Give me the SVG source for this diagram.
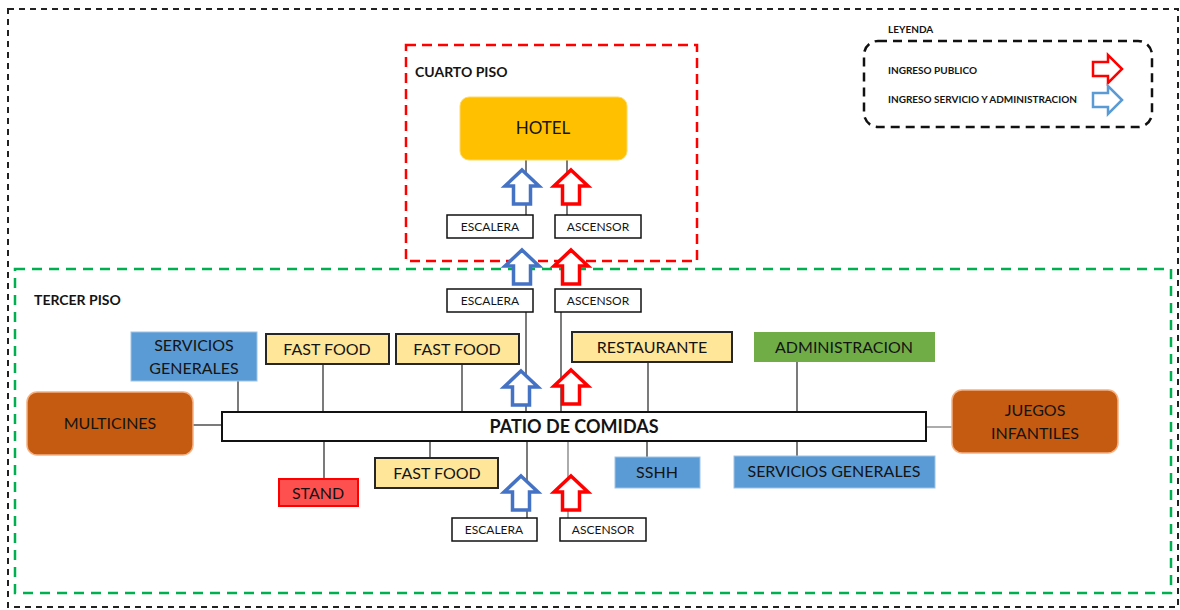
<svg xmlns="http://www.w3.org/2000/svg" width="1180" height="610" viewBox="0 0 1180 610">
  <style>
    text { font-family: Lato, "Open Sans", "Liberation Sans", sans-serif; fill: #141414; }
    .lbl { font-size: 16px; text-anchor: middle; dominant-baseline: central; }
    .sm { font-size: 12px; text-anchor: middle; dominant-baseline: central; }
    .ttl { font-size: 14px; font-weight: bold; }
    .leg { font-size: 10px; font-weight: bold; }
    .food { fill: #FFE699; stroke: #262626; stroke-width: 2; }
    .svc { fill: #5B9BD5; stroke: #9DC3E6; stroke-width: 1; }
    .stair { fill: #ffffff; stroke: #111; stroke-width: 1.5; }
    .big { fill: #C55A11; stroke: #F4B183; stroke-width: 1.5; }
    .conn line { stroke: #333; stroke-width: 1.3; }
    .up-blue { fill: #ffffff; stroke: #4472C4; stroke-width: 3.5; stroke-linejoin: miter; }
    .up-red { fill: #ffffff; stroke: #FF0000; stroke-width: 3.5; stroke-linejoin: miter; }
  </style>
  <defs>
    <!-- upward block arrow, apex at (0,0) -->
    <path id="upArrow" d="M0,0 L17,16 L8.5,16 L8.5,34 L-8.5,34 L-8.5,16 L-17,16 Z"/>
    <!-- rightward block arrow for the legend -->
    <path id="rightArrow" d="M29,14 L15,0 L15,7 L0,7 L0,21 L15,21 L15,28 Z"/>
  </defs>

  <rect width="1180" height="610" fill="#ffffff"/>

  <!-- outer frame -->
  <rect x="8" y="9" width="1170" height="598" fill="none" stroke="#222" stroke-width="2" stroke-dasharray="6 5"/>

  <!-- legend -->
  <g id="legend">
    <text x="888" y="33" class="leg">LEYENDA</text>
    <rect x="864" y="41" width="288" height="86" rx="14" fill="none" stroke="#111" stroke-width="2.5" stroke-dasharray="9 6"/>
    <text x="888" y="74" class="leg">INGRESO PUBLICO</text>
    <text x="888" y="103" class="leg">INGRESO SERVICIO Y ADMINISTRACION</text>
    <use href="#rightArrow" x="1093" y="55" fill="#ffffff" stroke="#FF0000" stroke-width="2.5"/>
    <use href="#rightArrow" x="1093" y="86" fill="#ffffff" stroke="#5B9BD5" stroke-width="2.5"/>
  </g>

  <!-- floor zones -->
  <g id="cuarto-piso">
    <rect x="406" y="45" width="291" height="216" fill="none" stroke="#FF0000" stroke-width="2.5" stroke-dasharray="10 6"/>
    <text x="415" y="77" class="ttl">CUARTO PISO</text>
  </g>
  <g id="tercer-piso">
    <rect x="15" y="269" width="1156" height="324" fill="none" stroke="#00B050" stroke-width="2.5" stroke-dasharray="10 7"/>
    <text x="34" y="305" class="ttl">TERCER PISO</text>
  </g>

  <!-- connectors -->
  <g id="connectors" class="conn">
    <line x1="526" y1="160" x2="526" y2="215"/>
    <line x1="567" y1="160" x2="567" y2="215"/>
    <line x1="526" y1="312" x2="526" y2="412"/>
    <line x1="561" y1="312" x2="561" y2="412"/>
    <line x1="238" y1="381" x2="238" y2="412"/>
    <line x1="323" y1="364" x2="323" y2="412"/>
    <line x1="462" y1="364" x2="462" y2="412"/>
    <line x1="648" y1="362" x2="648" y2="412"/>
    <line x1="797" y1="362" x2="797" y2="412"/>
    <line x1="193" y1="425" x2="222" y2="425"/>
    <line x1="926" y1="427" x2="952" y2="427" style="stroke:#7F7F7F"/>
    <line x1="324" y1="441" x2="324" y2="479"/>
    <line x1="430" y1="441" x2="430" y2="458"/>
    <line x1="527" y1="441" x2="527" y2="518"/>
    <line x1="568" y1="441" x2="568" y2="518" style="stroke:#7F7F7F"/>
    <line x1="647" y1="441" x2="647" y2="457"/>
    <line x1="797" y1="441" x2="797" y2="456"/>
  </g>

  <!-- fourth floor -->
  <g id="hotel">
    <rect x="460" y="97" width="167" height="63" rx="9" fill="#FFC000" stroke="#FFD966" stroke-width="1"/>
    <text x="543" y="127" class="lbl" style="font-size:17px">HOTEL</text>
  </g>
  <g id="escalera-4">
    <rect x="447" y="215" width="86" height="23" class="stair"/>
    <text x="490" y="226" class="sm">ESCALERA</text>
  </g>
  <g id="ascensor-4">
    <rect x="555" y="215" width="86" height="23" class="stair"/>
    <text x="598" y="226" class="sm">ASCENSOR</text>
  </g>

  <!-- third floor -->
  <g id="escalera-3">
    <rect x="447" y="289" width="86" height="23" class="stair"/>
    <text x="490" y="300" class="sm">ESCALERA</text>
  </g>
  <g id="ascensor-3">
    <rect x="555" y="289" width="86" height="23" class="stair"/>
    <text x="598" y="300" class="sm">ASCENSOR</text>
  </g>
  <g id="servicios-generales-1">
    <rect x="131" y="332" width="126" height="49" class="svc"/>
    <text x="194" y="344" class="lbl">SERVICIOS</text>
    <text x="194" y="367" class="lbl">GENERALES</text>
  </g>
  <g id="fast-food-1">
    <rect x="266" y="334" width="123" height="30" class="food"/>
    <text x="327" y="348" class="lbl">FAST FOOD</text>
  </g>
  <g id="fast-food-2">
    <rect x="396" y="334" width="123" height="30" class="food"/>
    <text x="457" y="348" class="lbl">FAST FOOD</text>
  </g>
  <g id="restaurante">
    <rect x="572" y="332" width="160" height="30" class="food"/>
    <text x="652" y="346" class="lbl">RESTAURANTE</text>
  </g>
  <g id="administracion">
    <rect x="754" y="332" width="181" height="30" fill="#70AD47"/>
    <text x="844" y="346" class="lbl">ADMINISTRACION</text>
  </g>
  <g id="multicines">
    <rect x="27" y="392" width="166" height="63" rx="10" class="big"/>
    <text x="110" y="422" class="lbl">MULTICINES</text>
  </g>
  <g id="juegos-infantiles">
    <rect x="952" y="390" width="166" height="63" rx="10" class="big"/>
    <text x="1035" y="409" class="lbl">JUEGOS</text>
    <text x="1035" y="432" class="lbl">INFANTILES</text>
  </g>
  <g id="patio-de-comidas">
    <rect x="222" y="412" width="704" height="29" fill="#ffffff" stroke="#111" stroke-width="2"/>
    <text x="574" y="426" class="lbl" style="font-size:18px;font-weight:bold">PATIO DE COMIDAS</text>
  </g>
  <g id="stand">
    <rect x="279" y="479" width="79" height="27" fill="#FF5050" stroke="#FF0000" stroke-width="2"/>
    <text x="318" y="492" class="lbl">STAND</text>
  </g>
  <g id="fast-food-3">
    <rect x="375" y="458" width="123" height="30" class="food"/>
    <text x="437" y="472" class="lbl">FAST FOOD</text>
  </g>
  <g id="sshh">
    <rect x="615" y="457" width="85" height="31" class="svc"/>
    <text x="657" y="471" class="lbl">SSHH</text>
  </g>
  <g id="servicios-generales-2">
    <rect x="734" y="456" width="201" height="32" class="svc"/>
    <text x="834" y="470" class="lbl">SERVICIOS GENERALES</text>
  </g>
  <g id="escalera-ingreso">
    <rect x="452" y="518" width="85" height="23" class="stair"/>
    <text x="494" y="529" class="sm">ESCALERA</text>
  </g>
  <g id="ascensor-ingreso">
    <rect x="560" y="518" width="86" height="23" class="stair"/>
    <text x="603" y="529" class="sm">ASCENSOR</text>
  </g>

  <!-- access arrows -->
  <g id="access-arrows">
    <use href="#upArrow" x="522" y="170" class="up-blue"/>
    <use href="#upArrow" x="571" y="170" class="up-red"/>
    <use href="#upArrow" x="522" y="250" class="up-blue"/>
    <use href="#upArrow" x="571" y="250" class="up-red"/>
    <use href="#upArrow" x="521" y="371" class="up-blue"/>
    <use href="#upArrow" x="571" y="370" class="up-red"/>
    <use href="#upArrow" x="521" y="476" class="up-blue"/>
    <use href="#upArrow" x="571" y="476" class="up-red"/>
  </g>
</svg>
